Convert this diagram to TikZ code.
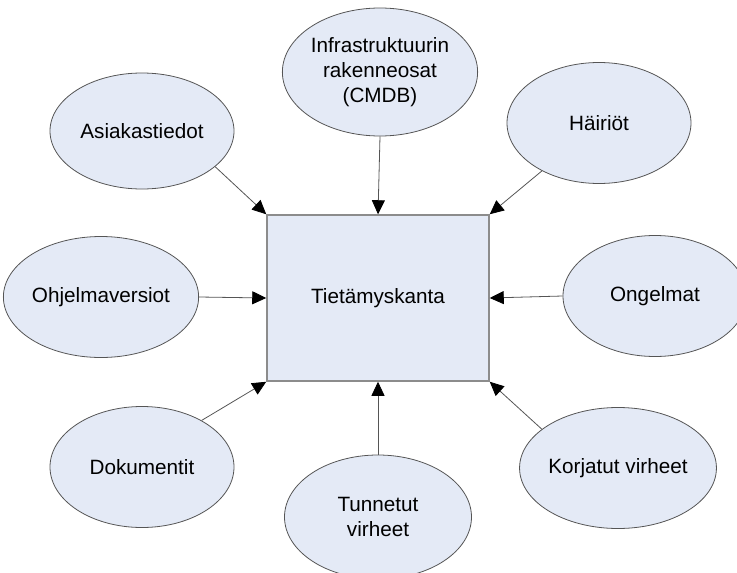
\documentclass[tikz,border=0pt]{standalone}
\usepackage{fontspec}
\setmainfont{Liberation Sans}
\usetikzlibrary{arrows.meta,shapes.geometric}
\definecolor{fillblue}{RGB}{228,234,246}
\definecolor{edgegray}{RGB}{85,85,85}
\definecolor{rectgray}{RGB}{140,140,140}
\tikzset{
  bubble/.style={ellipse, draw=edgegray, line width=0.8pt, fill=fillblue,
    minimum width=184pt, minimum height=121pt, inner sep=0pt, align=center,
    font=\fontsize{20.7}{25}\selectfont},
  centerbox/.style={rectangle, draw=rectgray, line width=1.5pt, fill=fillblue,
    minimum width=222pt, minimum height=166pt, inner sep=0pt,
    font=\fontsize{20.7}{25}\selectfont},
  link/.style={draw=edgegray, line width=0.8pt,
    -{Triangle[length=14pt,width=13pt,color=black]}}
}
\begin{document}
\begin{tikzpicture}[x=1pt,y=-1pt]
\useasboundingbox (0,0) rectangle (737,573);
\node[centerbox] (kb) at (378,298) {Tietämyskanta};
\node[bubble, minimum height=128pt, minimum width=186pt] (infra) at (380,72) {Infrastruktuurin\\rakenneosat\\(CMDB)};
\node[bubble, minimum height=116pt] (asia) at (142,131) {Asiakastiedot};
\node[bubble] (hai) at (599,123) {Häiriöt};
\node[bubble] (ohj) at (101,297) {Ohjelmaversiot};
\node[bubble] (ong) at (655,296) {Ongelmat};
\node[bubble] (dok) at (142,467) {Dokumentit};
\node[bubble, minimum height=124pt, minimum width=187pt] (tun) at (378,517) {Tunnetut\\virheet};
\node[bubble, minimum width=186pt] (korj) at (618,468) {Korjatut virheet};
\draw[link] (asia.-26) -- (kb.north west);
\draw[link] (infra.south) -- (kb.north);
\draw[link] (hai.220) -- (kb.north east);
\draw[link] (ohj.east) -- (kb.west);
\draw[link] (ong.west) -- (kb.east);
\draw[link] (dok.38) -- (kb.south west);
\draw[link] (tun.north) -- (kb.south);
\draw[link] (korj.153) -- (kb.south east);
\end{tikzpicture}
\end{document}
